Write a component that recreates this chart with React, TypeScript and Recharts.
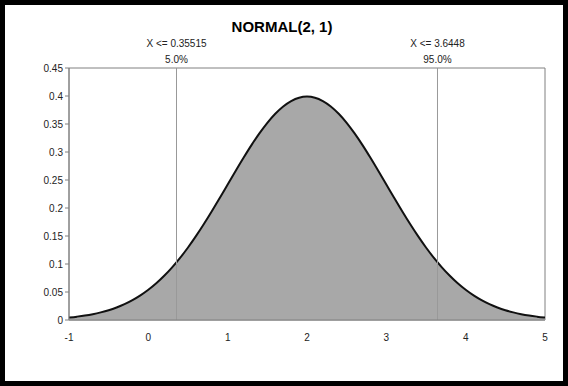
import { ComposedChart, Area, XAxis, YAxis, ReferenceLine, ReferenceArea } from "recharts";

// density of NORMAL(2, 1)
const xValues = [
  -1, -0.9, -0.8, -0.7, -0.6, -0.5, -0.4, -0.3, -0.2, -0.1,
  0, 0.1, 0.2, 0.3, 0.4, 0.5, 0.6, 0.7, 0.8, 0.9,
  1, 1.1, 1.2, 1.3, 1.4, 1.5, 1.6, 1.7, 1.8, 1.9,
  2, 2.1, 2.2, 2.3, 2.4, 2.5, 2.6, 2.7, 2.8, 2.9,
  3, 3.1, 3.2, 3.3, 3.4, 3.5, 3.6, 3.7, 3.8, 3.9,
  4, 4.1, 4.2, 4.3, 4.4, 4.5, 4.6, 4.7, 4.8, 4.9, 5,
];
const densities = [
  0.0044, 0.006, 0.0079, 0.0104, 0.0136, 0.0175, 0.0224, 0.0283, 0.0355, 0.044,
  0.054, 0.0656, 0.079, 0.094, 0.1109, 0.1295, 0.1497, 0.1714, 0.1942, 0.2179,
  0.242, 0.2661, 0.2897, 0.3123, 0.3332, 0.3521, 0.3683, 0.3814, 0.391, 0.397,
  0.3989, 0.397, 0.391, 0.3814, 0.3683, 0.3521, 0.3332, 0.3123, 0.2897, 0.2661,
  0.242, 0.2179, 0.1942, 0.1714, 0.1497, 0.1295, 0.1109, 0.094, 0.079, 0.0656,
  0.054, 0.044, 0.0355, 0.0283, 0.0224, 0.0175, 0.0136, 0.0104, 0.0079, 0.006, 0.0044,
];
const xTicks = [-1, 0, 1, 2, 3, 4, 5];
const yTicks = [0, 0.05, 0.1, 0.15, 0.2, 0.25, 0.3, 0.35, 0.4, 0.45];
const markers = [
  { x: 0.35515, label: "X <= 0.35515", pct: "5.0%" },
  { x: 3.6448, label: "X <= 3.6448", pct: "95.0%" },
];

const data = xValues.map((x, i) => ({ x, y: densities[i] }));
const font = "'Liberation Sans', Arial, sans-serif";

function MarkerLabel(props: any) {
  const { viewBox, text, pct } = props;
  const cx = viewBox.x;
  const top = viewBox.y;
  return (
    <g>
      <text x={cx} y={top - 21} textAnchor="middle" fontSize={10} fill="#222" fontFamily={font}>{text}</text>
      <text x={cx} y={top - 5} textAnchor="middle" fontSize={10} fill="#222" fontFamily={font}>{pct}</text>
    </g>
  );
}

export default function App() {
  return (
    <div style={{ position: "fixed", left: 0, top: 0, width: 568, height: 386, background: "#000" }}>
      <div style={{ position: "absolute", left: 5, top: 5, width: 558, height: 376, background: "#fff" }} />
      <div style={{ position: "absolute", left: 0, top: 0, width: 568, height: 386 }}>
        <div
          style={{
            position: "absolute", left: 0, top: 18, width: 564, textAlign: "center",
            fontFamily: font, fontWeight: "bold", fontSize: 15, color: "#000",
          }}
        >
          NORMAL(2, 1)
        </div>
        <ComposedChart width={568} height={386} data={data} margin={{ top: 68, right: 23, bottom: 36, left: 5 }}>
          <XAxis
            dataKey="x" type="number" domain={[-1, 5]} ticks={xTicks} allowDataOverflow
            stroke="#808080" tickLine={false} height={30}
            tick={{ fontSize: 10, fill: "#222", fontFamily: font }} tickMargin={8}
          />
          <YAxis
            type="number" domain={[0, 0.45]} ticks={yTicks} width={64}
            stroke="#808080" tickSize={4}
            tick={{ fontSize: 10, fill: "#222", fontFamily: font }}
          />
          <ReferenceArea x1={-1} x2={5} y1={0} y2={0.45} fill="none" stroke="#808080" strokeWidth={1} />
          <Area
            type="monotone" dataKey="y" stroke="#111" strokeWidth={2}
            fill="#a8a8a8" fillOpacity={1} isAnimationActive={false} dot={false} activeDot={false}
          />
          {markers.map((m) => (
            <ReferenceLine
              key={m.label} x={m.x} stroke="#999" strokeWidth={1}
              label={<MarkerLabel text={m.label} pct={m.pct} />}
            />
          ))}
        </ComposedChart>
      </div>
    </div>
  );
}
